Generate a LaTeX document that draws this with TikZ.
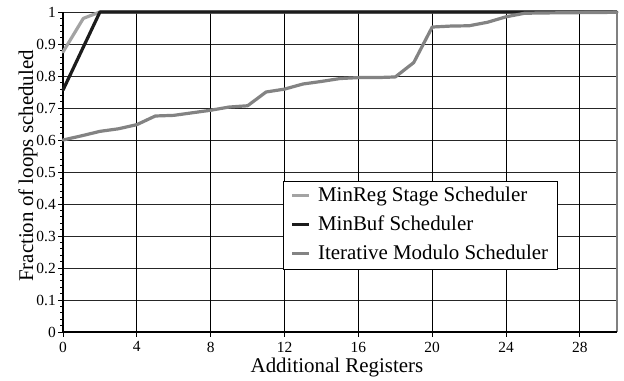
\documentclass[tikz,border=0pt]{standalone}
\usepackage{fontspec}
\setmainfont{Liberation Serif}
\usetikzlibrary{positioning}
\definecolor{sreg}{HTML}{A3A3A3}
\definecolor{sbuf}{HTML}{1C1C1C}
\definecolor{sims}{HTML}{838383}

\begin{document}
\begin{tikzpicture}[x=18.46bp, y=320bp,
    GRD/.style={draw=black!85, line width=0.9bp},
    CRV/.style={line width=3.2bp, line join=round, line cap=round},
    TCK/.style={font=\fontsize{15.5}{16}\selectfont, inner sep=0pt},
    LAB/.style={font=\fontsize{21}{24}\selectfont, inner sep=0pt}
    ]
    \useasboundingbox (-3.413,-0.153) rectangle (30.39,1.0375);
    % grid
    \foreach \v in {0.1,0.2,...,1.0}
        \draw[GRD] (0,\v) -- (30,\v);
    \foreach \u in {4,8,...,28}
        \draw[GRD, draw=black] (\u,0) -- (\u,1);
    \draw[draw=black!50, line width=1.5bp] (30,0) -- (30,1);
    % axes and ticks
    \draw[line width=1.2bp] (0,0) -- (0,1);
    \foreach \v in {0.02,0.04,...,0.99}
        \draw[line width=0.8bp] (0,\v) -- (-0.16,\v);
    \foreach \v/\t in {0/0,0.1/0.1,0.2/0.2,0.3/0.3,0.4/0.4,0.5/0.5,0.6/0.6,0.7/0.7,0.8/0.8,0.9/0.9,1/1} {
        \draw[line width=0.9bp] (0,\v) -- (-0.27,\v);
        \node[TCK, anchor=east] (yl\t) at (-0.38,\v) {\t};
    }
    \draw[line width=1.8bp] (0,0) -- (30,0);
    \foreach \u in {0,4,...,28} {
        \draw[line width=0.9bp] (\u,0) -- (\u,-0.016);
        \node[TCK, anchor=north] (xl\u) at (\u,-0.03) {\u};
    }
    \node[LAB, anchor=base] (xt) at (14.84,-0.125) {Additional Registers};
    \node[LAB, anchor=base, rotate=90] (yt) at (-1.62,0.519) {Fraction of loops scheduled};
    % curves
    \draw[CRV, draw=sreg] plot coordinates {(0,0.875) (1.1,0.98) (2,1) (30,1)};
    \draw[CRV, draw=sbuf] plot coordinates {(0,0.756) (2,1) (30,1)};
    \draw[CRV, draw=sims] plot coordinates {(0,0.600) (1,0.613) (2,0.627) (3,0.635) (4,0.648)
        (5,0.675) (6,0.677) (7,0.685) (8,0.693) (9,0.703) (10,0.707) (11,0.750)
        (12,0.759) (13,0.775) (14,0.783) (15,0.792) (16,0.795) (17,0.795) (18,0.797)
        (19,0.842) (20,0.953) (21,0.956) (22,0.957) (23,0.968) (24,0.985) (25,0.996)
        (26,0.997) (30,0.999)};
    % legend
    \draw[fill=white, draw=black, line width=0.9bp] (11.92,0.197) rectangle (26.76,0.472);
    \foreach \r/\c/\t in {0/sreg/MinReg Stage Scheduler, 1/sbuf/MinBuf Scheduler, 2/sims/Iterative Modulo Scheduler} {
        \coordinate (la\r) at (12.41,0.428-0.092*\r);
        \coordinate (lb\r) at (13.33,0.428-0.092*\r);
        \draw[line width=3bp, draw=\c] (la\r) -- (lb\r);
        \node[LAB, anchor=base west] (lt\r) at (13.81,0.409-0.092*\r) {\t};
    }
\end{tikzpicture}
\end{document}
